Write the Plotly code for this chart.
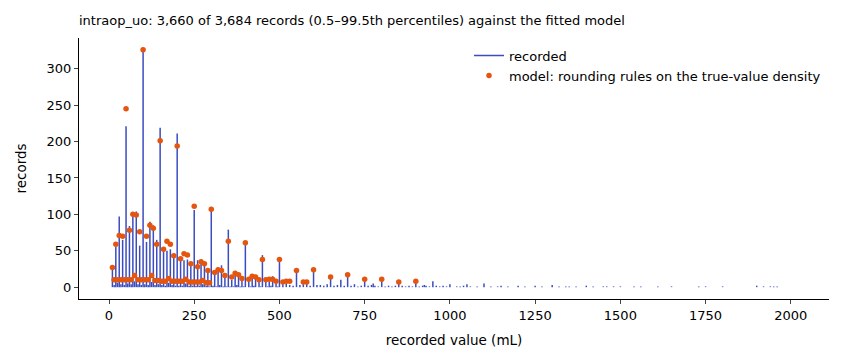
import plotly.graph_objects as go

# ---- recorded counts (values in mL) ----
rec_values = [10, 20, 30, 40, 50, 60, 70, 80, 90, 100, 110, 120, 130, 140, 150, 160, 170, 180, 190, 200,
              210, 220, 230, 240, 250, 260, 270, 280, 290, 300, 310, 320, 330, 340, 350, 360, 370, 380, 390, 400,
              410, 420, 430, 440, 450, 460, 470, 480, 490, 500, 510, 520, 530, 540, 550, 560, 570, 580, 590, 600,
              610, 620, 630, 640, 650, 660, 670, 680, 690, 700, 710, 720, 730, 740, 750, 760, 770, 775, 780, 790,
              800, 810, 820, 830, 840, 850, 860, 870, 880, 890, 900, 910, 920, 925, 930, 940, 950, 960, 970, 980,
              990, 1000, 1020, 1030, 1040, 1050, 1060, 1080, 1100, 1120, 1140, 1150, 1170, 1200, 1220, 1250, 1270,
              1300, 1320, 1340, 1350, 1370, 1400, 1420, 1450, 1460, 1480, 1500, 1540, 1560, 1610, 1650, 1730, 1750,
              1800, 1900, 1920, 1940, 1950, 1960]
rec_counts = [27, 55, 97, 65, 221, 84, 102, 104, 57, 326, 62, 90, 85, 65, 219, 53, 50, 52, 44, 211,
              41, 37, 38, 33, 106, 37, 36, 33, 23, 106, 22, 27, 30, 14, 79, 10, 16, 16, 10, 60,
              10, 14, 13, 8, 44, 8, 7, 15, 5, 39, 4, 5, 3, 2, 26, 3, 4, 5, 2, 26,
              3, 3, 2, 4, 15, 2, 3, 10, 2, 17, 2, 4, 1, 2, 11, 2, 3, 5, 2, 1,
              10, 1, 2, 1, 2, 6, 2, 1, 2, 1, 9, 1, 2, 3, 2, 1, 8, 2, 1, 2,
              1, 4, 1, 1, 2, 4, 1, 1, 5, 1, 1, 2, 1, 2, 1, 2, 1,
              3, 1, 1, 1, 1, 2, 1, 1, 1, 1, 1, 1, 1, 1, 1, 1, 1,
              1, 2, 1, 1, 1, 1]

# odd multiples of 5 (small recorded stubs)
odd5_values = [15, 25, 35, 45, 55, 65, 75, 85, 95, 105, 115, 125, 135, 145, 155, 165, 175, 185, 195, 205,
               215, 225, 235, 245, 255, 265, 275, 285, 295, 305, 315, 325, 335, 345, 355, 365, 375, 385, 395,
               415, 425, 445, 465, 475, 495]
odd5_counts = [3, 6, 4, 3, 5, 4, 8, 4, 3, 4, 3, 7, 3, 4, 3, 2, 6, 3, 2, 2,
               2, 5, 2, 2, 2, 2, 4, 2, 1, 2, 1, 3, 1, 1, 1, 1, 3, 1, 1,
               1, 2, 1, 1, 2, 1]

# ---- fitted model ----
model_values = [10, 20, 30, 40, 50, 60, 70, 80, 90, 100, 110, 120, 130, 140, 150, 160, 170, 180, 190, 200,
                210, 220, 230, 240, 250, 260, 270, 280, 290, 300, 310, 320, 330, 340, 350, 360, 370, 380, 390, 400,
                410, 420, 430, 440, 450, 460, 470, 480, 490, 500, 510, 520, 530, 550, 570, 580, 600, 650, 700, 750,
                800, 850, 900,
                15, 25, 35, 45, 55, 65, 75, 85, 95, 105, 115, 125, 135, 145, 155, 165, 175, 185, 195, 205,
                215, 225, 235, 245, 255, 265, 275, 285, 295]
model_counts = [27, 59, 71, 70, 245, 78, 100, 99, 76, 326, 70, 85, 81, 59, 201, 52, 63, 59, 43, 194,
                39, 46, 44, 32, 111, 28, 35, 32, 23, 107, 20, 24, 23, 16, 63, 14, 19, 17, 12, 61,
                11, 15, 14, 10, 38, 10, 11, 11, 8, 38, 7, 8, 8, 23, 7, 7, 24, 14, 17, 11,
                11, 7, 8,
                10, 10, 10, 10, 10, 10, 16, 10, 10, 10, 10, 16, 9, 9, 8, 8, 12, 8, 8, 8,
                8, 11, 7, 7, 7, 7, 9, 6, 6]

x_ticks = [0, 250, 500, 750, 1000, 1250, 1500, 1750, 2000]
y_ticks = [0, 50, 100, 150, 200, 250, 300]

BLUE = "#3b4cc0"
ORANGE = "#e6550d"
FONT = "DejaVu Sans"

all_vals = rec_values + odd5_values
all_counts = rec_counts + odd5_counts
sx, sy = [], []
for v, c in zip(all_vals, all_counts):
    sx += [v, v, None]
    sy += [0, c, None]

fig = go.Figure()
fig.add_trace(go.Scatter(x=sx, y=sy, mode="lines", name="recorded",
                         line=dict(color=BLUE, width=1.5), hoverinfo="skip"))
fig.add_trace(go.Scatter(x=model_values, y=model_counts, mode="markers",
                         name="model: rounding rules on the true-value density",
                         marker=dict(color=ORANGE, size=5.5, line=dict(width=0))))

fig.update_layout(
    width=845, height=364,
    margin=dict(l=79, r=16, t=38, b=65),
    paper_bgcolor="white", plot_bgcolor="white",
    font=dict(family=FONT, size=13, color="black"),
    title=dict(text="intraop_uo: 3,660 of 3,684 records (0.5–99.5th percentiles) against the fitted model",
               x=79/845, xanchor="left", y=1 - 20/364, yanchor="middle",
               font=dict(family=FONT, size=13, color="black")),
    showlegend=True,
    legend=dict(x=0.52, y=0.99, xanchor="left", yanchor="top",
                bgcolor="rgba(255,255,255,0)", font=dict(family=FONT, size=13),
                itemwidth=30, tracegroupgap=0),
    xaxis=dict(range=[-88, 2112], tickvals=x_ticks, ticks="outside", ticklen=4, tickwidth=1,
               showline=True, linecolor="black", linewidth=1, showgrid=False, zeroline=False,
               title=dict(text="recorded value (mL)", font=dict(size=13.5), standoff=13),
               tickfont=dict(size=13)),
    yaxis=dict(range=[-16.3, 342.3], tickvals=y_ticks, ticks="outside", ticklen=4, tickwidth=1,
               showline=True, linecolor="black", linewidth=1, showgrid=False, zeroline=False,
               title=dict(text="records", font=dict(size=13.5), standoff=16),
               tickfont=dict(size=13)),
)

fig.write_html("out.html")
